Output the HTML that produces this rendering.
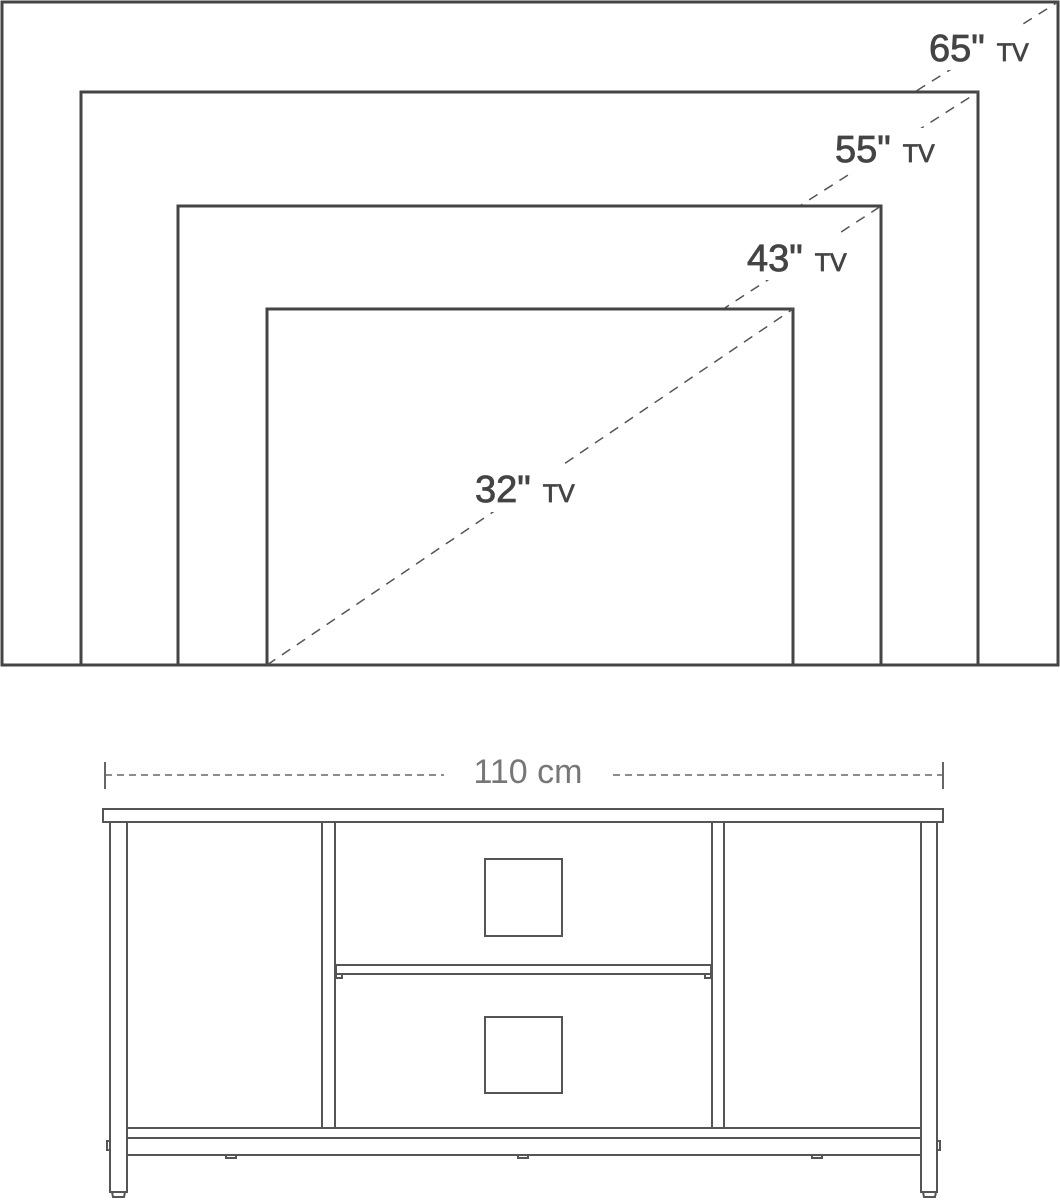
<!DOCTYPE html>
<html><head><meta charset="utf-8"><style>
html,body{margin:0;padding:0;background:#fff;}
svg{display:block;}
</style></head><body>
<svg width="1060" height="1200" viewBox="0 0 1060 1200" xmlns="http://www.w3.org/2000/svg">
<defs>
<clipPath id="c43"><rect x="0" y="0" width="1060" height="308"/></clipPath>
<clipPath id="c55"><rect x="0" y="0" width="1060" height="205"/></clipPath>
<clipPath id="c65"><rect x="0" y="0" width="1060" height="91"/></clipPath>
</defs>
<g fill="none" stroke="#444" stroke-width="3">
<rect x="2" y="2" width="1056" height="663"/>
<rect x="81" y="92" width="897" height="573"/>
<rect x="178" y="206" width="703" height="459"/>
<rect x="267" y="309" width="526" height="356"/>
</g>
<g stroke="#555" stroke-width="1.5" stroke-dasharray="10,8" fill="none">
<line x1="267" y1="665" x2="793" y2="309"/>
<line x1="178" y1="665" x2="881" y2="206" clip-path="url(#c43)"/>
<line x1="81" y1="665" x2="978" y2="92" clip-path="url(#c55)"/>
<line x1="2" y1="665" x2="1058" y2="2" clip-path="url(#c65)"/>
</g>
<g fill="#fff">
<rect x="924" y="26" width="120" height="44"/>
<rect x="830" y="128" width="118" height="44"/>
<rect x="742" y="236" width="118" height="44"/>
<rect x="470" y="466" width="120" height="46"/>
</g>
<g font-family="Liberation Sans, sans-serif" fill="#444" stroke="#444" stroke-width="0.8">
<text x="929" y="61" font-size="38">65"<tspan font-size="25" dx="12">TV</tspan></text>
<text x="835" y="162" font-size="38">55"<tspan font-size="25" dx="12">TV</tspan></text>
<text x="747" y="271" font-size="38">43"<tspan font-size="25" dx="12">TV</tspan></text>
<text x="475" y="502" font-size="38">32"<tspan font-size="25" dx="12">TV</tspan></text>
</g>
<g stroke="#666" stroke-width="1.5" fill="none">
<line x1="105" y1="775" x2="444" y2="775" stroke-dasharray="7,5"/>
<line x1="613" y1="775" x2="943" y2="775" stroke-dasharray="7,5"/>
<line x1="105" y1="762" x2="105" y2="789" stroke-width="2"/>
<line x1="943" y1="762" x2="943" y2="789" stroke-width="2"/>
</g>
<text x="528" y="783" text-anchor="middle" font-family="Liberation Sans, sans-serif" font-size="34" fill="#777">110 cm</text>
<g fill="none" stroke="#555" stroke-width="2">
<rect x="103" y="809" width="840" height="13"/>
<rect x="110" y="822" width="17" height="370"/>
<rect x="921" y="822" width="16" height="370"/>
<path d="M112 1192 L113 1197 H124 L125 1192"/>
<path d="M923 1192 L924 1197 H935 L936 1192"/>
<rect x="322" y="822" width="13" height="306"/>
<rect x="712" y="822" width="12" height="306"/>
<rect x="336" y="965" width="375" height="9"/>
<rect x="127" y="1128" width="794" height="10"/>
<line x1="127" y1="1155" x2="921" y2="1155"/>
<rect x="485" y="859" width="77" height="77"/>
<rect x="485" y="1017" width="77" height="76"/>
<rect x="226" y="1155" width="10" height="3"/>
<rect x="518" y="1155" width="10" height="3"/>
<rect x="812" y="1155" width="10" height="3"/>
<rect x="107" y="1141" width="3" height="9"/>
<rect x="937" y="1141" width="3" height="9"/>
<rect x="336" y="974" width="6" height="4"/>
<rect x="705" y="974" width="6" height="4"/>
</g>
</svg>
</body></html>
